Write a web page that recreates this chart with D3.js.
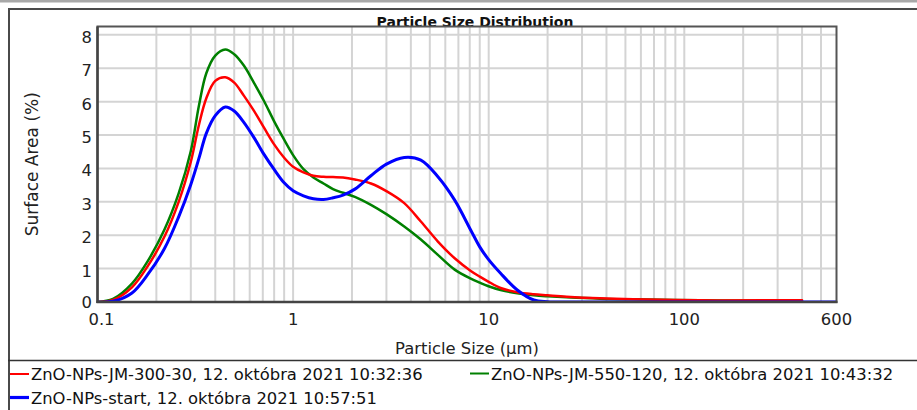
<!DOCTYPE html>
<html><head><meta charset="utf-8">
<script src="https://cdn.jsdelivr.net/npm/d3@7"></script>
<style>
body{margin:0;background:#fff;}
svg{display:block;font-family:"DejaVu Sans",sans-serif;}
</style>
</head><body>
<svg id="chart" width="917" height="410"></svg>
<script>
// ---- data ----
const sizes = [0.1, 0.12, 0.15, 0.18, 0.22, 0.26, 0.3, 0.33, 0.36, 0.4, 0.45, 0.5, 0.56, 0.63, 0.71, 0.8, 0.9, 1.0, 1.13, 1.27, 1.43, 1.6, 1.8, 2.07, 2.5, 3.0, 3.7, 4.5, 5.5, 6.7, 8.1, 9.0, 9.9, 11.5, 14, 17, 20, 25, 37, 55, 120, 250, 400, 600];
const redValues   = [0, 0.06, 0.44, 1.06, 1.96, 3.0, 4.2, 5.3, 6.1, 6.62, 6.73, 6.57, 6.18, 5.73, 5.22, 4.72, 4.32, 4.05, 3.88, 3.78, 3.75, 3.74, 3.73, 3.67, 3.55, 3.32, 2.96, 2.41, 1.81, 1.31, 0.93, 0.76, 0.62, 0.42, 0.29, 0.23, 0.2, 0.16, 0.11, 0.08, 0.05, 0.05, 0.05, null];
const greenValues = [0, 0.09, 0.55, 1.21, 2.17, 3.25, 4.52, 5.88, 6.85, 7.38, 7.56, 7.42, 7.08, 6.57, 6.02, 5.41, 4.86, 4.4, 3.98, 3.73, 3.55, 3.38, 3.27, 3.15, 2.91, 2.63, 2.26, 1.87, 1.41, 0.97, 0.7, 0.58, 0.48, 0.36, 0.26, 0.2, 0.17, 0.14, 0.1, 0.08, 0.05, 0.04, 0.03, null];
const blueValues  = [0, 0.02, 0.27, 0.81, 1.6, 2.55, 3.52, 4.3, 5.05, 5.58, 5.84, 5.72, 5.38, 4.93, 4.42, 3.97, 3.57, 3.33, 3.18, 3.09, 3.07, 3.12, 3.2, 3.38, 3.78, 4.13, 4.33, 4.25, 3.75, 3.05, 2.15, 1.65, 1.3, 0.86, 0.36, 0.06, 0.01, 0, 0, 0, 0, 0, 0, 0];
const seriesNames = [
  "ZnO-NPs-JM-300-30, 12. októbra 2021 10:32:36",
  "ZnO-NPs-JM-550-120, 12. októbra 2021 10:43:32",
  "ZnO-NPs-start, 12. októbra 2021 10:57:51"
];
const seriesColors = ["#ff0000", "#008000", "#0000ff"];
const yTickValues = [0, 1, 2, 3, 4, 5, 6, 7, 8];
const xTickValues = [0.1, 1, 10, 100, 600];
const xGridValues = [0.2,0.3,0.4,0.5,0.6,0.7,0.8,0.9,1,2,3,4,5,6,7,8,9,10,20,30,40,50,60,70,80,90,100,200,300,400,500];
const chartTitle = "Particle Size Distribution";
const xTitle = "Particle Size (µm)";
const yTitle = "Surface Area (%)";

// ---- layout ----
const svg = d3.select("#chart");
const L = 97.5, R = 836.5, T = 26.5, B = 302;
const x = d3.scaleLog().domain([0.1, 600]).range([L, R]);
const y = d3.scaleLinear().domain([0, 8.25]).range([B, T]);

// outer frame
svg.append("rect").attr("x",0).attr("y",0).attr("width",917).attr("height",2.5).attr("fill","#a8a8a8");
svg.append("line").attr("x1",8).attr("x2",917).attr("y1",9).attr("y2",9).attr("stroke","#4a4a4a").attr("stroke-width",2);
svg.append("line").attr("x1",9).attr("x2",9).attr("y1",8).attr("y2",410).attr("stroke","#4a4a4a").attr("stroke-width",2);
svg.append("line").attr("x1",8).attr("x2",917).attr("y1",360.5).attr("y2",360.5).attr("stroke","#333").attr("stroke-width",1.5);

// grid
const g = svg.append("g");
g.selectAll(".gx").data(xGridValues).join("line")
  .attr("x1", d => x(d)).attr("x2", d => x(d)).attr("y1", T).attr("y2", B)
  .attr("stroke", "#d4d4d4").attr("stroke-width", 2);
g.selectAll(".gy").data(yTickValues.filter(d => d > 0)).join("line")
  .attr("x1", L).attr("x2", R).attr("y1", d => y(d)).attr("y2", d => y(d))
  .attr("stroke", "#d4d4d4").attr("stroke-width", 2);

// title (under border)
svg.append("text").attr("x", 475).attr("y", 27).attr("text-anchor","middle")
  .attr("font-size", 14).attr("font-weight","bold").attr("fill","#111").text(chartTitle);

// series lines
svg.append("clipPath").attr("id","clip").append("rect")
  .attr("x", L).attr("y", T - 5).attr("width", R - L).attr("height", B - T + 5);
const allSeries = [redValues, greenValues, blueValues];
const widths = [2.5, 2.5, 3];
const line = d3.line()
  .defined(d => d[1] !== null)
  .x(d => x(d[0])).y(d => y(Math.max(0, d[1])))
  .curve(d3.curveCatmullRom.alpha(0.5));
const lg = svg.append("g").attr("clip-path","url(#clip)");
[1, 0, 2].forEach(i => {
  const pts = sizes.map((s, k) => [s, allSeries[i][k]]);
  lg.append("path").attr("d", line(pts)).attr("fill","none")
    .attr("stroke", seriesColors[i]).attr("stroke-width", widths[i])
    .attr("stroke-linejoin","round").attr("stroke-linecap","round");
});

// plot border
svg.append("rect").attr("x", L).attr("y", T).attr("width", R - L).attr("height", B - T)
  .attr("fill","none").attr("stroke","#555").attr("stroke-width",2);
svg.append("line").attr("x1", L).attr("x2", L).attr("y1", T).attr("y2", B + 1).attr("stroke","#444").attr("stroke-width",2.5);
svg.append("line").attr("x1", L - 1).attr("x2", R + 1).attr("y1", B).attr("y2", B).attr("stroke","#444").attr("stroke-width",2.5);

// y tick labels
svg.append("g").selectAll("text").data(yTickValues).join("text")
  .attr("x", 92).attr("y", d => d === 0 ? y(d) + 6 : y(d) + 8).attr("text-anchor","end")
  .attr("font-size", 16.4).attr("fill","#222").text(d => d);

// x tick labels
svg.append("g").selectAll("text").data(xTickValues).join("text")
  .attr("x", d => x(d) + (d === 0.1 ? 4 : 0)).attr("y", 325).attr("text-anchor","middle")
  .attr("font-size", 16.4).attr("fill","#222").text(d => d3.format("~g")(d));

// axis titles
svg.append("text").attr("x", (L + R) / 2).attr("y", 354).attr("text-anchor","middle")
  .attr("font-size", 16.4).attr("fill","#222").text(xTitle);
svg.append("text").attr("transform", `translate(38,${(T + B) / 2}) rotate(-90)`)
  .attr("text-anchor","middle").attr("font-size", 17).attr("fill","#222").text(yTitle);

// legend
const legendItems = [
  {i: 0, lx: 10, ly: 374, tx: 31, ty: 380},
  {i: 1, lx: 470, ly: 373.5, tx: 491, ty: 380},
  {i: 2, lx: 10, ly: 397.5, tx: 31, ty: 404}
];
legendItems.forEach(it => {
  svg.append("line").attr("x1", it.lx).attr("x2", it.lx + 19).attr("y1", it.ly).attr("y2", it.ly)
    .attr("stroke", seriesColors[it.i]).attr("stroke-width", it.i === 2 ? 3.2 : 2);
  svg.append("text").attr("x", it.tx).attr("y", it.ty).attr("font-size", 16.4).attr("fill","#111")
    .text(seriesNames[it.i]);
});
</script>
</body></html>
